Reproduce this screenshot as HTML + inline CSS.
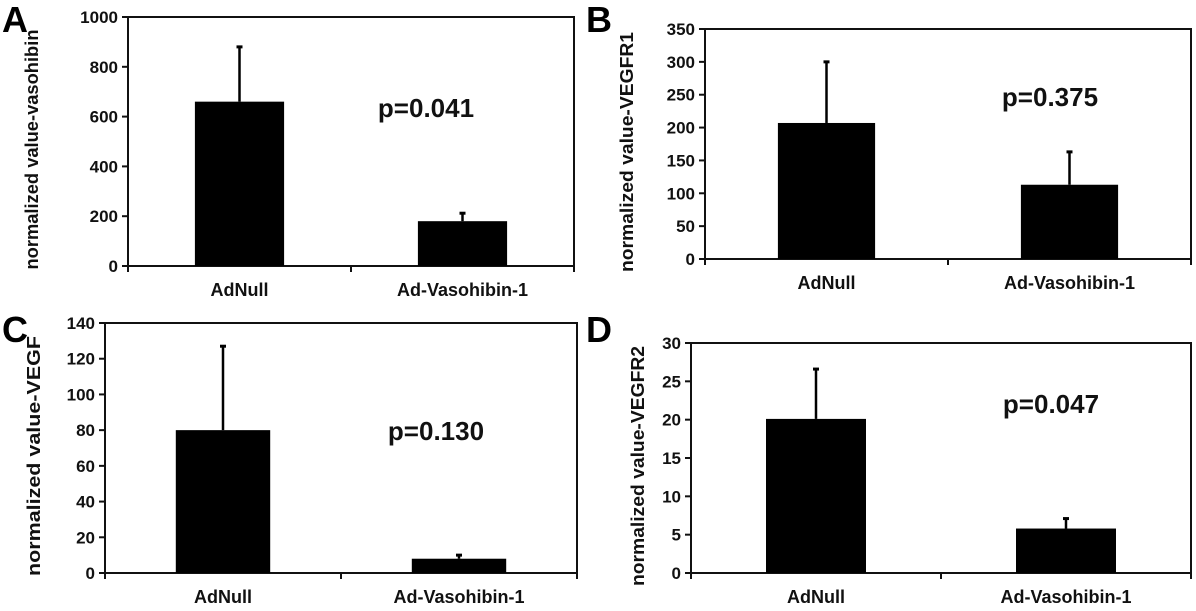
<!DOCTYPE html>
<html><head><meta charset="utf-8"><style>
html,body{margin:0;padding:0;background:#fff;}
svg{display:block;font-family:"Liberation Sans",sans-serif;font-weight:bold;}
</style></head><body>
<svg id="fig" width="1196" height="611" viewBox="0 0 1196 611"></svg>
<script>
const categories = ["AdNull", "Ad-Vasohibin-1"];
const valuesA = [660, 180];
const errorsA = [220, 32];
const ticksA = [0, 200, 400, 600, 800, 1000];
const valuesB = [207, 113];
const errorsB = [93, 50];
const ticksB = [0, 50, 100, 150, 200, 250, 300, 350];
const valuesC = [80, 8];
const errorsC = [47, 2];
const ticksC = [0, 20, 40, 60, 80, 100, 120, 140];
const valuesD = [20.1, 5.8];
const errorsD = [6.5, 1.3];
const ticksD = [0, 5, 10, 15, 20, 25, 30];
const pLabels = ["p=0.041", "p=0.375", "p=0.130", "p=0.047"];
const yTitles = ["normalized value-vasohibin", "normalized value-VEGFR1", "normalized value-VEGF", "normalized value-VEGFR2"];
const letters = ["A", "B", "C", "D"];

const NS = "http://www.w3.org/2000/svg";
const svg = document.getElementById("fig");
function mk(tag, attrs, parent) {
  const e = document.createElementNS(NS, tag);
  for (const k in attrs) e.setAttribute(k, attrs[k]);
  (parent || svg).appendChild(e);
  return e;
}
const layouts = [
  {L:128,R:574,T:17,B:266,letterX:2,letterY:32,titleX:38,pX:426,pY:117},
  {L:705,R:1191,T:29,B:259,letterX:586,letterY:32,titleX:633,pX:1050,pY:106},
  {L:105,R:577,T:323,B:573,letterX:2,letterY:342,titleX:40,pX:436,pY:440},
  {L:691,R:1191,T:343,B:573,letterX:586,letterY:342,titleX:644,pX:1051,pY:413}
];
const values = [valuesA, valuesB, valuesC, valuesD];
const errors = [errorsA, errorsB, errorsC, errorsD];
const ticks = [ticksA, ticksB, ticksC, ticksD];

layouts.forEach((ly, i) => {
  const g = mk("g", {});
  
  
  const tk = ticks[i];
  const ymax = tk[tk.length - 1];
  const y = v => ly.B - (v / ymax) * (ly.B - ly.T);
  const band = (ly.R - ly.L) / categories.length;
  const bw = band * 0.4;
  const xc = j => ly.L + band * (j + 0.5);

  const frame = mk("rect", {x: ly.L, y: ly.T, width: ly.R - ly.L, height: ly.B - ly.T, fill: "none", stroke: "#111", "stroke-width": 2}, g);
  
  

  tk.forEach(t => {
    const ln = mk("line", {x1: ly.L - 6, x2: ly.L, y1: y(t), y2: y(t), stroke: "#111", "stroke-width": 2}, g);
    
    
    const tx = mk("text", {x: ly.L - 10, y: y(t) + 6, "text-anchor": "end", "font-size": 17, fill: "#111"}, g);
    tx.textContent = t;
    
    
  });
  for (let j = 0; j <= categories.length; j++) {
    const ln = mk("line", {x1: ly.L + band * j, x2: ly.L + band * j, y1: ly.B, y2: ly.B + 6, stroke: "#111", "stroke-width": 2}, g);
    
    
  }
  categories.forEach((c, j) => {
    const v = values[i][j], e = errors[i][j];
    const eb = mk("line", {x1: xc(j), x2: xc(j), y1: y(v), y2: y(v + e), stroke: "#000", "stroke-width": 2.5}, g);
    
    
    const cap = mk("line", {x1: xc(j) - 3, x2: xc(j) + 3, y1: y(v + e), y2: y(v + e), stroke: "#000", "stroke-width": 3}, g);
    
    
    const r = mk("rect", {x: xc(j) - bw / 2, y: y(v), width: bw, height: ly.B - y(v), fill: "#000"}, g);
    
    
    const lb = mk("text", {x: xc(j), y: ly.B + 30, "text-anchor": "middle", "font-size": 18, fill: "#111"}, g);
    lb.textContent = c;
    
    
  });
  const yt = mk("text", {x: 0, y: 0, "text-anchor": "middle", "font-size": 18, fill: "#111",
    textLength: 240, lengthAdjust: "spacingAndGlyphs",
    transform: `translate(${ly.titleX},${(ly.T + ly.B) / 2 + 8}) rotate(-90)`}, g);
  yt.textContent = yTitles[i];
  
  
  const p = mk("text", {x: ly.pX, y: ly.pY, "text-anchor": "middle", "font-size": 26, fill: "#111"}, g);
  p.textContent = pLabels[i];
  
  
  const lt = mk("text", {x: ly.letterX, y: ly.letterY, "font-size": 36, fill: "#000"}, g);
  lt.textContent = letters[i];
  
  
});
</script>
</body></html>
